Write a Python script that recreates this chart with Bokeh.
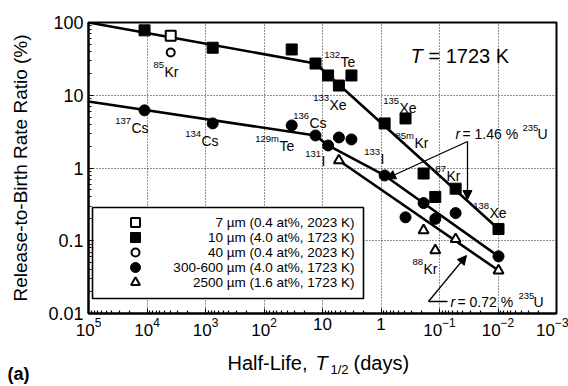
from bokeh.plotting import figure
from bokeh.layouts import column
from bokeh.models import Range1d, FixedTicker, Label, Arrow, NormalHead
from bokeh.core.properties import value
from bokeh.embed import file_html
from bokeh.resources import INLINE

FONT = "Liberation Sans"

# ---------------- data: half-life (days) vs release-to-birth ratio (%) ----------------
iso_x = [11019, 754, 33.6, 13.16, 8.02, 5.245, 3.20, 0.867, 0.381, 0.187, 0.118, 0.053, 0.0098]
sq10_y = [78, 45, 42.6, 27.3, 18.7, 13.6, 18.7, 4.1, 4.8, 0.84, 0.40, 0.52, 0.145]
c300_y = [6.2, 4.1, 3.85, 2.8, 2.04, 2.63, 2.47, 0.79, 0.21, 0.33, 0.20, 0.24, 0.061]
sq7_x = [3930]
sq7_y = [66]
c40_x = [3930]
c40_y = [38.7]
t2500_x = [5.245, 0.187, 0.118, 0.053, 0.0098]
t2500_y = [1.27, 0.139, 0.074, 0.105, 0.039]

# model curves (r = 1.46 % and r = 0.72 % 235U)
fit_sq_x = [1e5, 13.16, 0.0098]
fit_sq_y = [100, 27.3, 0.145]
fit_c_x = [1e5, 13.16, 8.02, 0.867, 0.0098]
fit_c_y = [8.2, 2.8, 2.04, 0.79, 0.061]
fit_t_x = [5.245, 0.0098]
fit_t_y = [1.27, 0.039]

legend_labels = ["7 \u00b5m (0.4 at%, 2023 K)", "10 \u00b5m (4.0 at%, 1723 K)",
                 "40 \u00b5m (0.4 at%, 2023 K)", "300-600 \u00b5m (4.0 at%, 1723 K)",
                 "2500 \u00b5m (1.6 at%, 1723 K)"]
y_ticks = [0.01, 0.1, 1, 10, 100]
y_tick_labels = ["0.01", "0.1", "1", "10", "100"]
x_ticks = [1e5, 1e4, 1e3, 1e2, 10, 1, 0.1, 0.01, 0.001]
x_label_overrides = {10: "10", 1: "1"}

# isotope labels: mass number, element, left px of element, centre py
iso_labels = [("85", "Kr", 164, 71), ("137", "Cs", 131, 127), ("134", "Cs", 201, 140),
              ("129m", "Te", 279, 145), ("136", "Cs", 309, 122), ("131", "I", 321, 160),
              ("133", "Xe", 329, 104), ("132", "Te", 340, 61), ("135", "Xe", 399, 107),
              ("85m", "Kr", 414, 142), ("133", "I", 380, 158), ("87", "Kr", 446, 175),
              ("138", "Xe", 489, 212), ("88", "Kr", 423, 268)]

# x-axis title pieces (text, left px, centre py in the strip below, size, style)
title_parts = [("Half-Life,", 227, 16, "20px", "normal"), ("T", 315, 16, "20px", "italic"),
               ("1/2", 330, 23, "13px", "normal"), ("(days)", 353, 16, "20px", "normal"),
               ("(a)", 7, 27, "18px", "bold")]

# ---------------- frame geometry ----------------
W, H1, H2 = 568, 346, 40
FL, FR, FT, FB = 88, 556, 22, 313
X_LO, X_HI, Y_TOP, Y_BOT = 5, -3, 2, -2


def px2x(px):
    return 10 ** (X_LO + (X_HI - X_LO) * (px - FL) / (FR - FL))


def py2y(py):
    return 10 ** (Y_TOP + (Y_BOT - Y_TOP) * (py - FT) / (FB - FT))


p = figure(width=W, height=H1, x_axis_type="log", y_axis_type="log",
           x_range=Range1d(1e5, 1e-3), y_range=Range1d(0.01, 100),
           output_backend="svg", toolbar_location=None,
           min_border_left=FL, min_border_right=W - FR, min_border_top=FT,
           min_border_bottom=H1 - FB, background_fill_color="white",
           border_fill_color="white", frame_align=False)
p.outline_line_color = "black"
p.outline_line_width = 2

x_minor = []
for k in range(-3, 5):
    for m in range(2, 10):
        x_minor.append(m * 10.0 ** k)
y_minor = []
for k in range(-2, 2):
    for m in range(2, 10):
        y_minor.append(m * 10.0 ** k)

xa = p.xaxis[0]
xa.ticker = FixedTicker(ticks=x_ticks, minor_ticks=x_minor)
xa.major_label_overrides = x_label_overrides
xa.axis_line_width = 2
xa.major_tick_in = 5
xa.major_tick_out = 0
xa.minor_tick_in = 3
xa.minor_tick_out = 0
xa.minor_tick_line_width = 1.2
xa.major_label_text_font = FONT
xa.major_label_text_font_size = "17px"
xa.major_label_text_color = "black"
xa.major_label_standoff = 4

ya = p.yaxis[0]
ya.ticker = FixedTicker(ticks=y_ticks, minor_ticks=y_minor)
ya.major_label_overrides = {t: s for t, s in zip(y_ticks, y_tick_labels)}
ya.axis_line_width = 2
ya.major_tick_in = 5
ya.major_tick_out = 0
ya.minor_tick_in = 3
ya.minor_tick_out = 0
ya.minor_tick_line_width = 1.2
ya.major_label_text_font = FONT
ya.major_label_text_font_size = "18px"
ya.major_label_text_color = "black"
ya.major_label_standoff = 5
ya.axis_label = "Release-to-Birth Rate Ratio (%)"
ya.axis_label_text_font = FONT
ya.axis_label_text_font_size = "19px"
ya.axis_label_text_font_style = "normal"
ya.axis_label_text_color = "black"
ya.axis_label_standoff = 14

for g in (p.xgrid, p.ygrid):
    g.grid_line_color = "#222222"
    g.grid_line_dash = "1 2"
    g.grid_line_width = 1

# ---------------- model curves ----------------
for fx, fy in ((fit_sq_x, fit_sq_y), (fit_c_x, fit_c_y), (fit_t_x, fit_t_y)):
    p.line(fx, fy, line_color="black", line_width=2.6)

# ---------------- data points ----------------
p.scatter(iso_x, sq10_y, marker="square", size=11, fill_color="black", line_color="black")
p.scatter(iso_x, c300_y, marker="circle", size=11, fill_color="black", line_color="black")
p.scatter(sq7_x, sq7_y, marker="square", size=10, fill_color="white", line_color="black", line_width=2)
p.scatter(c40_x, c40_y, marker="circle", size=8, fill_color="white", line_color="black", line_width=2)
p.scatter(t2500_x, t2500_y, marker="triangle", size=10, fill_color="white", line_color="black", line_width=2)


def txt(px, py, s, size, align="left", style="normal"):
    p.add_layout(Label(x=px2x(px), y=py2y(py), text=s, text_font=FONT,
                       text_font_size=f"{size}px", text_align=align,
                       text_baseline="middle", text_font_style=style,
                       text_color="black"))


# isotope labels
for mass, el, lx, ly in iso_labels:
    txt(lx - 0.5, ly - 7, mass, 9.5, align="right")
    txt(lx, ly, el, 14)

# ---------------- legend ----------------
lg_rows = [222, 237, 252, 267, 282]
p.quad(left=[px2x(92)], right=[px2x(363)], top=[py2y(207)], bottom=[py2y(298)],
       fill_color="white", line_color="black", line_width=1.6)
lg_styles = [dict(marker="square", size=9, fill_color="white", line_width=2),
             dict(marker="square", size=10, fill_color="black", line_width=1),
             dict(marker="circle", size=8, fill_color="white", line_width=2),
             dict(marker="circle", size=10, fill_color="black", line_width=1),
             dict(marker="triangle", size=9, fill_color="white", line_width=2)]
for row, st, lab in zip(lg_rows, lg_styles, legend_labels):
    p.scatter([px2x(135)], [py2y(row)], line_color="black", **st)
    txt(354, row, lab, 13.5, align="right")

# ---------------- annotations ----------------
txt(410, 55, "T", 20, style="italic")
txt(428, 55, "= 1723 K", 20)

txt(455, 133, "r", 14, style="italic")
txt(462, 133, "= 1.46 %", 14)
txt(522, 127, "235", 9.5)
txt(537, 133, "U", 14)

txt(450, 301, "r", 14, style="italic")
txt(457, 301, "= 0.72 %", 14)
txt(518, 295, "235", 9.5)
txt(533, 301, "U", 14)

for (x0, y0, x1, y1) in [(467, 141, 386, 178), (467, 141, 467, 199), (428, 301, 466, 255)]:
    p.add_layout(Arrow(x_start=px2x(x0), y_start=py2y(y0), x_end=px2x(x1), y_end=py2y(y1),
                       line_color="black", line_width=1.3,
                       end=NormalHead(size=9, fill_color="black", line_color="black", line_width=1)))
p.line([px2x(428), px2x(447)], [py2y(301), py2y(301)], line_color="black", line_width=1.3)

# ---------------- strip below: x-axis title with italic T and subscript ----------------
p2 = figure(width=W, height=H2, x_range=Range1d(0, W), y_range=Range1d(H2, 0),
            output_backend="svg", toolbar_location=None, min_border=0,
            min_border_left=0, min_border_right=0, min_border_top=0, min_border_bottom=0,
            x_axis_location=None, y_axis_location=None, frame_align=False,
            background_fill_color="white", border_fill_color="white")
p2.outline_line_color = None
p2.xgrid.visible = False
p2.ygrid.visible = False
for s, tx, ty, fs, style in title_parts:
    p2.text(x=[tx], y=[ty], text=[s], text_font=value(FONT), text_font_size=value(fs),
            text_font_style=style, text_align="left", text_baseline="middle",
            text_color="black")

layout = column(p, p2, spacing=0)
open("out.html", "w").write(file_html(layout, INLINE))
